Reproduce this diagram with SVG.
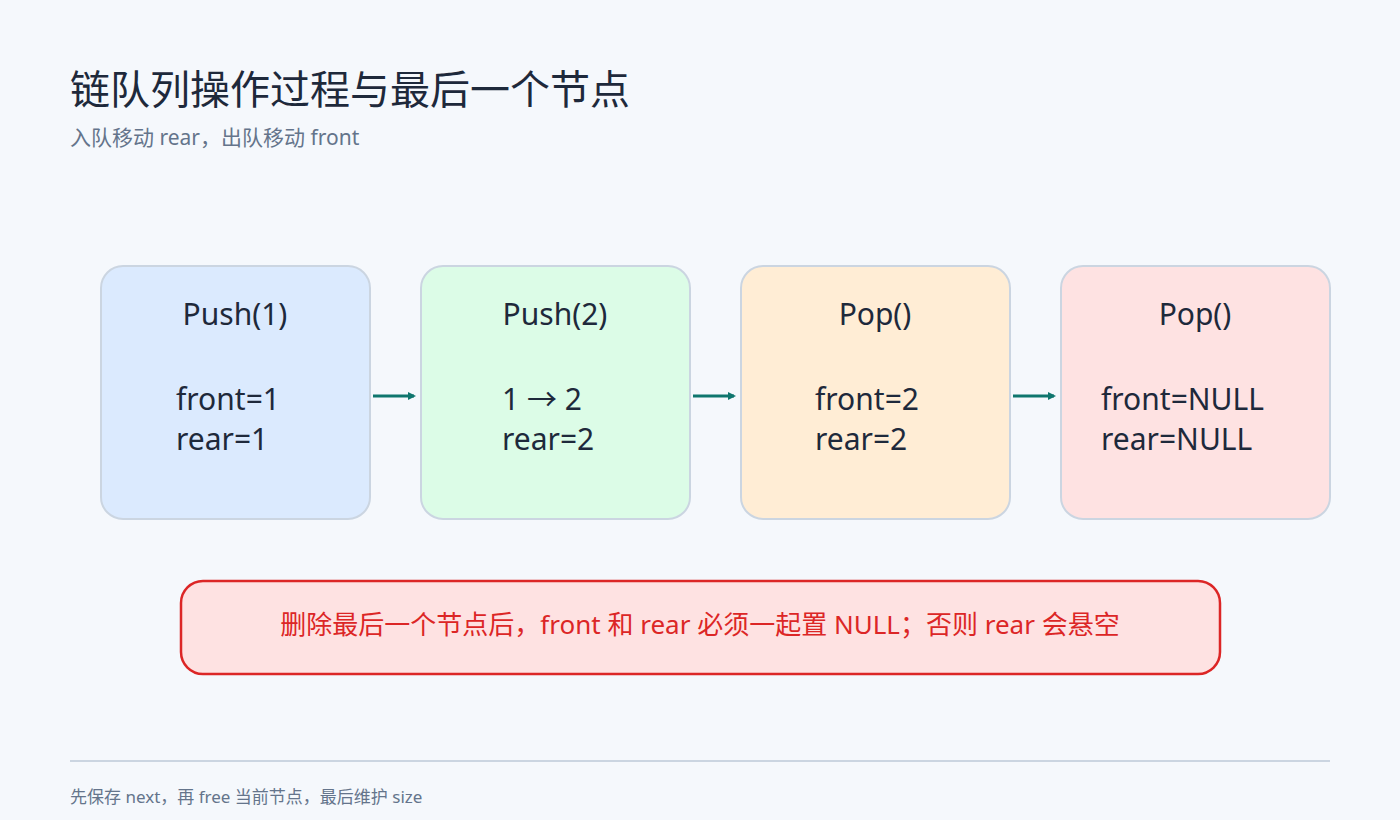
<svg xmlns="http://www.w3.org/2000/svg" width="1400" height="820" viewBox="0 0 1400 820">
<style>
text{font-family:"Noto Sans","Noto Sans CJK SC",sans-serif;fill:#1e293b}
.box{stroke:#cbd5e1;stroke-width:2}
.t{font-size:30px;text-anchor:middle}
.b{font-size:30px}
.c{stroke:#0f766e;stroke-width:3;fill:none;marker-end:url(#a)}
</style>
<defs><marker id="a" markerWidth="8" markerHeight="8" refX="6" refY="4" orient="auto" markerUnits="userSpaceOnUse"><path d="M0,0 L8,4 L0,8 z" fill="#0f766e"/></marker></defs>
<rect width="1400" height="820" fill="#f5f8fc"/>
<text x="70" y="104" font-size="40">链队列操作过程与最后一个节点</text>
<text x="70" y="145" font-size="21" style="fill:#64748b">入队移动 rear，出队移动 front</text>
<g id="n1"><rect class="box" x="101" y="266" width="269" height="253" rx="22" fill="#dbeafe"/><text class="t" x="235" y="325">Push(1)</text><text class="b" x="176" y="410">front=1</text><text class="b" x="176" y="450">rear=1</text></g>
<g id="n2"><rect class="box" x="421" y="266" width="269" height="253" rx="22" fill="#dcfce7"/><text class="t" x="555" y="325">Push(2)</text><text class="b" x="502" y="410">1 → 2</text><text class="b" x="502" y="450">rear=2</text></g>
<g id="n3"><rect class="box" x="741" y="266" width="269" height="253" rx="22" fill="#ffedd5"/><text class="t" x="875" y="325">Pop()</text><text class="b" x="815" y="410">front=2</text><text class="b" x="815" y="450">rear=2</text></g>
<g id="n4"><rect class="box" x="1061" y="266" width="269" height="253" rx="22" fill="#fee2e2"/><text class="t" x="1195" y="325">Pop()</text><text class="b" x="1101" y="410">front=NULL</text><text class="b" x="1101" y="450">rear=NULL</text></g>
<g id="connectors"><path class="c" d="M373,396 H414"/><path class="c" d="M693,396 H734"/><path class="c" d="M1013,396 H1054"/></g>
<g id="note"><rect x="181" y="581" width="1039" height="93" rx="22" fill="#fee2e2" stroke="#dc2626" stroke-width="2.5"/><text x="700" y="634" font-size="26" text-anchor="middle" style="fill:#dc2626">删除最后一个节点后，front 和 rear 必须一起置 NULL；否则 rear 会悬空</text></g>
<line x1="70" y1="761" x2="1330" y2="761" stroke="#cbd5e1" stroke-width="2"/>
<text x="70" y="803" font-size="17" style="fill:#64748b">先保存 next，再 free 当前节点，最后维护 size</text>
</svg>
